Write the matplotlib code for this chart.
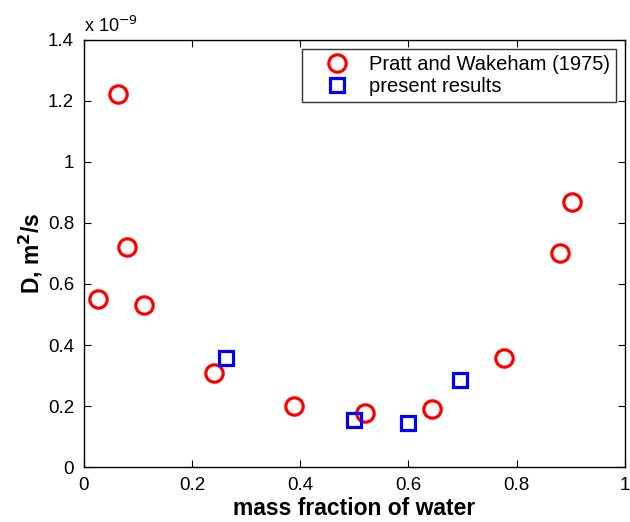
import matplotlib
matplotlib.use("Agg")
import matplotlib.pyplot as plt

plt.rcParams['font.family'] = ['Liberation Sans', 'DejaVu Sans']

# Pratt and Wakeham (1975), D in units of 1e-9 m^2/s
pw_x = [0.026, 0.064, 0.080, 0.112, 0.240, 0.389, 0.520, 0.644, 0.776, 0.880, 0.902]
pw_d = [0.551, 1.221, 0.720, 0.530, 0.310, 0.199, 0.176, 0.191, 0.358, 0.701, 0.868]

# present results
pr_x = [0.263, 0.500, 0.600, 0.695]
pr_d = [0.359, 0.156, 0.144, 0.287]

xticks = [0, 0.2, 0.4, 0.6, 0.8, 1]
xticklabels = ['0', '0.2', '0.4', '0.6', '0.8', '1']
yticks = [0, 0.2, 0.4, 0.6, 0.8, 1.0, 1.2, 1.4]
yticklabels = ['0', '0.2', '0.4', '0.6', '0.8', '1', '1.2', '1.4']

fig = plt.figure(figsize=(6.3, 5.22), dpi=100)
ax = fig.add_axes([0.133, 0.105, 0.859, 0.819])

ax.plot(pw_x, pw_d, 'o', ms=12.5, mfc='none', mec='red', mew=2.3,
        label='Pratt and Wakeham (1975)')
ax.plot(pr_x, pr_d, 's', ms=10, mfc='none', mec='blue', mew=2.3,
        label='present results')

ax.set_xlim(0, 1)
ax.set_ylim(0, 1.4)
ax.set_xticks(xticks)
ax.set_xticklabels(xticklabels)
ax.set_yticks(yticks)
ax.set_yticklabels(yticklabels)
ax.tick_params(direction='in', top=True, right=True, labelsize=13.5, length=5)
ax.tick_params(axis='x', pad=7)
ax.tick_params(axis='y', pad=7)
for s in ax.spines.values():
    s.set_linewidth(1.0)

ax.set_xlabel('mass fraction of water', fontsize=16.5, fontweight='bold', labelpad=2)
ax.set_ylabel('D, m$^\\mathbf{2}$/s', fontsize=16.5, fontweight='bold', labelpad=2)
ax.text(0.0, 1.008, 'x 10$^{-9}$', transform=ax.transAxes, fontsize=13,
        ha='left', va='bottom')

leg = ax.legend(loc='upper right', fontsize=14.5, frameon=True, fancybox=False,
                edgecolor='black', borderaxespad=0.45, handletextpad=0.2,
                handlelength=2.8, labelspacing=0.15, borderpad=0.3, numpoints=1)
leg.get_frame().set_linewidth(1.0)

fig.savefig('out.png', dpi=100)
